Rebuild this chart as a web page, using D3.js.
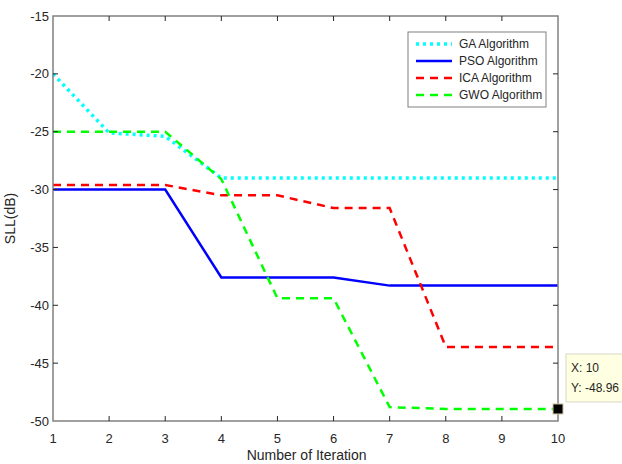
<!DOCTYPE html>
<html lang="en">
<head>
  <meta charset="UTF-8" />
  <title>SLL vs Iteration</title>
  <script src="https://d3js.org/d3.v7.min.js"></script>
  <style>
    body {
      margin: 0;
      padding: 0;
      background-color: white;
      font-family: "Liberation Sans", Arial, sans-serif;
    }
    .tick-label, .axis-title, .legend-text, .tip-text {
      fill: #262626;
      font-size: 12px;
    }
    .tick-label { font-size: 13px; }
    .axis-title { font-size: 14px; }
  </style>
</head>
<body>
  <svg id="chart" width="622" height="464"></svg>
  <script>
    // Data
    const iterations = [1, 2, 3, 4, 5, 6, 7, 8, 9, 10];
    const gaValues  = [-20, -25.1, -25.4, -29, -29, -29, -29, -29, -29, -29];
    const psoValues = [-30, -30, -30, -37.6, -37.6, -37.6, -38.3, -38.3, -38.3, -38.3];
    const icaValues = [-29.6, -29.6, -29.6, -30.5, -30.5, -31.6, -31.6, -43.6, -43.6, -43.6];
    const gwoValues = [-25, -25, -25, -29.1, -39.4, -39.4, -48.8, -48.96, -48.96, -48.96];
    const xTicks = [1, 2, 3, 4, 5, 6, 7, 8, 9, 10];
    const yTicks = [-50, -45, -40, -35, -30, -25, -20, -15];
    const seriesNames = ["GA Algorithm", "PSO Algorithm", "ICA Algorithm", "GWO Algorithm"];

    const series = [
      { name: seriesNames[0], values: gaValues,  color: "#00ffff", width: 3.5, dash: "3,4" },
      { name: seriesNames[1], values: psoValues, color: "#0000ff", width: 2.5, dash: null },
      { name: seriesNames[2], values: icaValues, color: "#ff0000", width: 2.5, dash: "8,6" },
      { name: seriesNames[3], values: gwoValues, color: "#00ff00", width: 2.5, dash: "8,6" }
    ];

    const margin = { top: 16, right: 64, bottom: 43, left: 53 };
    const width = 622 - margin.left - margin.right;
    const height = 464 - margin.top - margin.bottom;

    const svg = d3.select("#chart")
      .append("g")
      .attr("transform", `translate(${margin.left},${margin.top})`);

    const x = d3.scaleLinear().domain([1, 10]).range([0, width]);
    const y = d3.scaleLinear().domain([-50, -15]).range([height, 0]);

    // Lines
    const line = d3.line()
      .x((d, i) => x(iterations[i]))
      .y(d => y(d));

    series.forEach(s => {
      svg.append("path")
        .datum(s.values)
        .attr("fill", "none")
        .attr("stroke", s.color)
        .attr("stroke-width", s.width)
        .attr("stroke-dasharray", s.dash)
        .attr("d", line);
    });

    // Axis box
    svg.append("rect")
      .attr("x", 0).attr("y", 0)
      .attr("width", width).attr("height", height)
      .attr("fill", "none")
      .attr("stroke", "#808080")
      .attr("stroke-width", 1.5);

    // Tick marks (inside, on all four sides)
    const tickLen = 5;
    xTicks.slice(1, -1).forEach(t => {
      svg.append("line").attr("x1", x(t)).attr("x2", x(t))
        .attr("y1", height).attr("y2", height - tickLen)
        .attr("stroke", "#262626").attr("stroke-width", 1);
      svg.append("line").attr("x1", x(t)).attr("x2", x(t))
        .attr("y1", 0).attr("y2", tickLen)
        .attr("stroke", "#262626").attr("stroke-width", 1);
    });
    yTicks.slice(1, -1).forEach(t => {
      svg.append("line").attr("x1", 0).attr("x2", tickLen)
        .attr("y1", y(t)).attr("y2", y(t))
        .attr("stroke", "#262626").attr("stroke-width", 1);
      svg.append("line").attr("x1", width).attr("x2", width - tickLen)
        .attr("y1", y(t)).attr("y2", y(t))
        .attr("stroke", "#262626").attr("stroke-width", 1);
    });

    // Tick labels
    svg.selectAll(".x-label")
      .data(xTicks)
      .join("text")
      .attr("class", "tick-label")
      .attr("x", d => x(d))
      .attr("y", height + 22)
      .attr("text-anchor", "middle")
      .text(d => d);

    svg.selectAll(".y-label")
      .data(yTicks)
      .join("text")
      .attr("class", "tick-label")
      .attr("x", -4)
      .attr("y", d => y(d))
      .attr("dy", "0.35em")
      .attr("text-anchor", "end")
      .text(d => d);

    // Axis titles
    svg.append("text")
      .attr("class", "axis-title")
      .attr("x", x(5.52))
      .attr("y", height + 39)
      .attr("text-anchor", "middle")
      .text("Number of Iteration");

    svg.append("text")
      .attr("class", "axis-title")
      .attr("transform", `translate(-38,${y(-32.5)}) rotate(-90)`)
      .attr("text-anchor", "middle")
      .text("SLL(dB)");

    // Legend
    const legend = svg.append("g").attr("transform", `translate(${408 - margin.left},${32 - margin.top})`);
    legend.append("rect")
      .attr("width", 138).attr("height", 75)
      .attr("fill", "white")
      .attr("stroke", "#808080")
      .attr("stroke-width", 1);

    series.forEach((s, i) => {
      const ly = 12 + i * 17;
      legend.append("line")
        .attr("x1", 8).attr("x2", 44)
        .attr("y1", ly).attr("y2", ly)
        .attr("stroke", s.color)
        .attr("stroke-width", s.width)
        .attr("stroke-dasharray", s.dash);
      legend.append("text")
        .attr("class", "legend-text")
        .attr("x", 51)
        .attr("y", ly)
        .attr("dy", "0.35em")
        .text(s.name);
    });

    // Data tip at the last GWO point
    const tipX = x(iterations[9]);
    const tipY = y(gwoValues[9]);
    svg.append("rect")
      .attr("x", tipX - 5).attr("y", tipY - 5)
      .attr("width", 10).attr("height", 10)
      .attr("fill", "black")
      .attr("stroke", "#ccc8a0");

    const tip = svg.append("g").attr("transform", `translate(${tipX + 8},${tipY - 55})`);
    tip.append("rect")
      .attr("width", 70).attr("height", 48)
      .attr("fill", "#ffffe1")
      .attr("stroke", "#d8d8c8");
    tip.append("text").attr("class", "tip-text").attr("x", 5).attr("y", 18).text("X: 10");
    tip.append("text").attr("class", "tip-text").attr("x", 5).attr("y", 38).text(`Y: ${gwoValues[9]}`);
  </script>
</body>
</html>
